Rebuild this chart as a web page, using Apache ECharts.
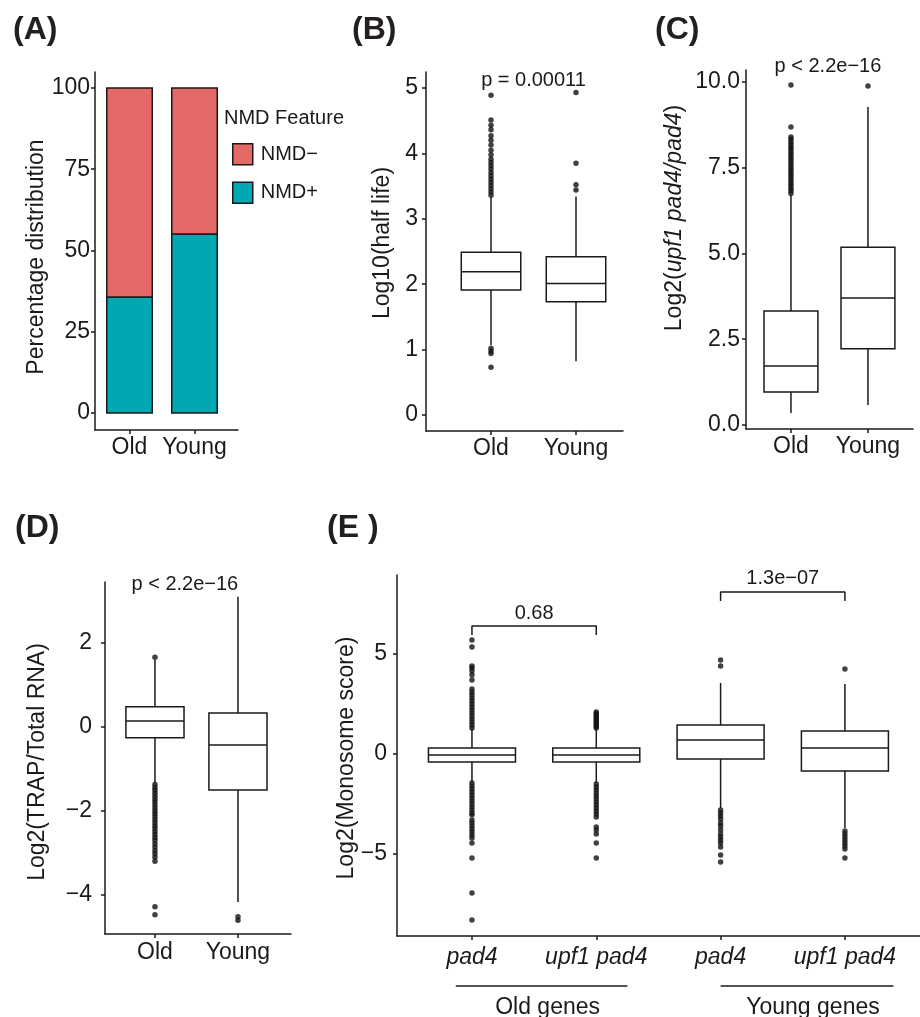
<!DOCTYPE html>
<html>
<head>
<meta charset="utf-8">
<script src="https://cdn.jsdelivr.net/npm/echarts@6/dist/echarts.min.js"></script>
<style>
  html, body { margin: 0; padding: 0; background: #fff; }
  #main { width: 920px; height: 1017px; }
</style>
</head>
<body>
<div id="main"></div>
<script>
// ---------- values ----------
// (A) share of transcripts with / without NMD feature, %
const ageGroups = ['Old', 'Young'];
const nmdPlus = [35.7, 55.1];
const nmdMinus = [64.3, 44.9];

// box stats: [lower whisker, Q1, median, Q3, upper whisker]
// (B) Log10(half life)
const halfLifeBox = [
  [1.07, 1.91, 2.19, 2.49, 3.33],
  [0.82, 1.73, 2.01, 2.42, 3.34]
];
const halfLifeOutliers = [
  [0.73, 0.94, 0.98, 1.02, 3.36, 3.41, 3.46, 3.51, 3.56, 3.61, 3.66, 3.71, 3.76, 3.81, 3.86, 3.91,
   3.98, 4.05, 4.13, 4.2, 4.27, 4.36, 4.43, 4.51, 4.89],
  [3.44, 3.52, 3.85, 4.93]
];

// (C) Log2(upf1 pad4 / pad4)
const upfRatioBox = [
  [0.35, 0.96, 1.72, 3.32, 6.7],
  [0.58, 2.22, 3.70, 5.18, 9.27]
];
const upfRatioOutliers = [
  [6.75, 6.83, 6.9, 6.98, 7.05, 7.13, 7.2, 7.28, 7.35, 7.43, 7.5, 7.58, 7.65, 7.73, 7.8, 7.88,
   7.95, 8.03, 8.1, 8.18, 8.25, 8.33, 8.4, 8.69, 9.91],
  [9.88]
];

// (D) Log2(TRAP / Total RNA)
const trapBox = [
  [-1.33, -0.26, 0.14, 0.48, 1.6],
  [-4.17, -1.5, -0.43, 0.33, 3.1]
];
const trapOutliers = [
  [1.66, -1.37, -1.44, -1.51, -1.58, -1.65, -1.72, -1.79, -1.86, -1.93, -2.0, -2.07, -2.14, -2.21,
   -2.28, -2.35, -2.42, -2.49, -2.56, -2.63, -2.7, -2.78, -2.86, -2.94, -3.02, -3.1, -3.2, -4.28, -4.47],
  [-4.52, -4.6]
];

// (E) Log2(Monosome score)
const genotypes = ['pad4', 'upf1 pad4', 'pad4', 'upf1 pad4'];
const geneGroups = ['Old genes', 'Young genes'];
const monosomeBox = [
  [-1.4, -0.4, -0.05, 0.3, 1.25],
  [-1.45, -0.4, -0.05, 0.3, 1.25],
  [-2.7, -0.25, 0.7, 1.45, 3.55],
  [-3.7, -0.85, 0.3, 1.15, 3.5]
];
const monosomeOutliers = [
  [1.3, 1.45, 1.6, 1.75, 1.9, 2.05, 2.2, 2.35, 2.5, 2.65, 2.8, 2.95, 3.1, 3.25, 3.7, 3.95, 4.15, 4.3, 4.4,
   5.35, 5.7, -1.45, -1.6, -1.75, -1.9, -2.05, -2.2, -2.35, -2.5, -2.65, -2.8, -2.95, -3.05, -3.3, -3.45,
   -3.6, -3.75, -3.9, -4.05, -4.2, -4.45, -5.2, -6.95, -8.3],
  [1.3, 1.38, 1.46, 1.54, 1.62, 1.7, 1.78, 1.86, 1.94, 2.02, 2.1, -1.5, -1.65, -1.8, -1.95, -2.1, -2.25,
   -2.4, -2.55, -2.7, -2.85, -3.0, -3.15, -3.65, -3.8, -4.0, -4.45, -5.2],
  [4.4, 4.7, -2.8, -2.95, -3.1, -3.25, -3.45, -3.6, -3.8, -4.0, -4.15, -4.3, -4.45, -4.65, -5.05, -5.4],
  [4.25, -3.85, -4.0, -4.15, -4.3, -4.45, -4.6, -4.75, -5.2]
];
// comparison brackets: [left group, right group, bar height, tick end]
const monosomeBrackets = [[1, 2, 6.4, 5.95], [3, 4, 8.1, 7.65]];
const monosomePvalues = ['0.68', '1.3e\u221207'];
// underline span of each gene group (x positions), drawn below the axis
const groupSpans = [[0.87, 2.25], [3.0, 4.39]];
const groupLineY = -11.6;

// ---------- styling ----------
const FONT = 'Arial, "Liberation Sans", Helvetica, sans-serif';
const INK = '#1a1a1a';
const RED = '#E46866';
const TEAL = '#00A9B1';

const grids = [
  { left: 95, top: 72, width: 143, height: 358 },   // A
  { left: 426, top: 72, width: 197, height: 359 },  // B
  { left: 746, top: 70, width: 167, height: 359 },  // C
  { left: 105, top: 582, width: 186, height: 352 }, // D
  { left: 397, top: 575, width: 523, height: 361 }  // E
];

function xAxisOf(gi, range, names, margin, italic) {
  const pos = names.map((_, i) => i + 1);
  return {
    type: 'value', gridIndex: gi, min: range[0], max: range[1],
    axisLine: { show: true, onZero: false, lineStyle: { color: INK, width: 1.5 } },
    axisTick: { show: true, length: 4, customValues: pos, lineStyle: { color: INK, width: 1.5 } },
    axisLabel: {
      customValues: pos, margin: margin, color: INK, fontSize: 23, fontFamily: FONT,
      fontStyle: italic ? 'italic' : 'normal',
      formatter: v => names[Math.round(v) - 1]
    },
    splitLine: { show: false }
  };
}

function yAxisOf(gi, range, ticks, margin, digits) {
  return {
    type: 'value', gridIndex: gi, min: range[0], max: range[1],
    axisLine: { show: true, onZero: false, lineStyle: { color: INK, width: 1.5 } },
    axisTick: { show: true, length: 4, customValues: ticks, lineStyle: { color: INK, width: 1.5 } },
    axisLabel: {
      customValues: ticks, margin: margin, color: INK, fontSize: 23, fontFamily: FONT,
      formatter: v => v.toFixed(digits).replace('-', '\u2212')
    },
    splitLine: { show: false }
  };
}

// stacked bar segment: [x, from, to], width 0.7 of one group step
function renderSegment(params, api) {
  const x = api.value(0);
  const a = api.coord([x, api.value(1)]);
  const b = api.coord([x, api.value(2)]);
  const half = api.size([0.7, 0])[0] / 2;
  return {
    type: 'rect',
    shape: { x: a[0] - half, y: b[1], width: half * 2, height: a[1] - b[1] },
    style: { fill: api.visual('color'), stroke: INK, lineWidth: 1.5 }
  };
}

// ggplot-like box: no whisker caps, box width 0.7 of one group step
function renderBox(params, api) {
  const x = api.value(0);
  const lo = api.coord([x, api.value(1)]);
  const q1 = api.coord([x, api.value(2)]);
  const md = api.coord([x, api.value(3)]);
  const q3 = api.coord([x, api.value(4)]);
  const hi = api.coord([x, api.value(5)]);
  const half = api.size([0.7, 0])[0] / 2;
  const st = { stroke: INK, lineWidth: 1.5, fill: null };
  return {
    type: 'group',
    children: [
      { type: 'line', shape: { x1: lo[0], y1: lo[1], x2: q1[0], y2: q1[1] }, style: st },
      { type: 'line', shape: { x1: q3[0], y1: q3[1], x2: hi[0], y2: hi[1] }, style: st },
      { type: 'rect', shape: { x: q3[0] - half, y: q3[1], width: half * 2, height: q1[1] - q3[1] },
        style: { stroke: INK, lineWidth: 1.5, fill: '#fff' } },
      { type: 'line', shape: { x1: md[0] - half, y1: md[1], x2: md[0] + half, y2: md[1] }, style: st }
    ]
  };
}

function boxSeries(gi, boxes) {
  return {
    type: 'custom', xAxisIndex: gi, yAxisIndex: gi, renderItem: renderBox, z: 3,
    data: boxes.map((b, i) => [i + 1].concat(b)),
    encode: { x: 0, y: [1, 2, 3, 4, 5] }
  };
}

function outlierSeries(gi, groups) {
  return {
    type: 'scatter', xAxisIndex: gi, yAxisIndex: gi, symbolSize: 5.5, z: 4,
    itemStyle: { color: '#111' },
    data: groups.flatMap((vals, i) => vals.map(v => [i + 1, v]))
  };
}

const series = [
  {
    type: 'custom', name: 'NMD+', xAxisIndex: 0, yAxisIndex: 0, renderItem: renderSegment,
    itemStyle: { color: TEAL },
    encode: { x: 0, y: [1, 2] },
    data: nmdPlus.map((v, i) => [i + 1, 0, v])
  },
  {
    type: 'custom', name: 'NMD\u2212', xAxisIndex: 0, yAxisIndex: 0, renderItem: renderSegment,
    itemStyle: { color: RED },
    encode: { x: 0, y: [1, 2] },
    data: nmdMinus.map((v, i) => [i + 1, nmdPlus[i], nmdPlus[i] + v])
  },
  outlierSeries(1, halfLifeOutliers), boxSeries(1, halfLifeBox),
  outlierSeries(2, upfRatioOutliers), boxSeries(2, upfRatioBox),
  outlierSeries(3, trapOutliers), boxSeries(3, trapBox),
  outlierSeries(4, monosomeOutliers), boxSeries(4, monosomeBox)
];

monosomeBrackets.forEach(b => {
  series.push({
    type: 'line', xAxisIndex: 4, yAxisIndex: 4, symbol: 'none', silent: true,
    lineStyle: { color: INK, width: 1.5 },
    data: [[b[0], b[3]], [b[0], b[2]], [b[1], b[2]], [b[1], b[3]]]
  });
});
groupSpans.forEach(s => {
  series.push({
    type: 'line', xAxisIndex: 4, yAxisIndex: 4, symbol: 'none', silent: true, clip: false,
    lineStyle: { color: INK, width: 1.5 },
    data: [[s[0], groupLineY], [s[1], groupLineY]]
  });
});

const chart = echarts.init(document.getElementById('main'));
chart.setOption({
  animation: false,
  backgroundColor: '#fff',
  grid: grids.map(g => Object.assign({ outerBoundsMode: 'none', containLabel: false }, g)),
  xAxis: [
    xAxisOf(0, [0.469, 2.669], ageGroups, 6, false),
    xAxisOf(1, [0.235, 2.553], ageGroups, 6, false),
    xAxisOf(2, [0.416, 2.585], ageGroups, 6, false),
    xAxisOf(3, [0.398, 2.639], ageGroups, 7, false),
    xAxisOf(4, [0.397, 4.604], genotypes, 10, true)
  ],
  yAxis: [
    yAxisOf(0, [-5.2, 104.9], [0, 25, 50, 75, 100], 5, 0),
    yAxisOf(1, [-0.245, 5.245], [0, 1, 2, 3, 4, 5], 8, 0),
    yAxisOf(2, [-0.117, 10.35], [0, 2.5, 5, 7.5, 10], 6, 1),
    yAxisOf(3, [-4.93, 3.45], [-4, -2, 0, 2], 13, 0),
    yAxisOf(4, [-9.1, 8.95], [-5, 0, 5], 10, 0)
  ],
  legend: {
    data: ['NMD\u2212', 'NMD+'],
    orient: 'vertical', left: 227, top: 138,
    itemWidth: 20, itemHeight: 21, itemGap: 16, icon: 'rect',
    itemStyle: { borderColor: INK, borderWidth: 1.5 },
    textStyle: { color: INK, fontSize: 20, fontFamily: FONT, padding: [0, 0, 0, 3] },
    selectedMode: false
  },
  series: series
});

// ---------- text annotations ----------
function px(gi, pt) { return chart.convertToPixel({ gridIndex: gi }, pt); }
function label(x, y, text, o) {
  o = o || {};
  return {
    type: 'text', x: x, y: y, rotation: o.rotation || 0, silent: true, z: 10,
    style: {
      text: text, fill: o.color || INK, align: o.align || 'center', verticalAlign: o.vAlign || 'middle',
      fontSize: o.size || 23, fontWeight: o.weight || 'normal', fontFamily: FONT, rich: o.rich
    }
  };
}

const pTexts = [
  [1, [1.5, 5.12], 'p = 0.00011'],
  [2, [1.48, 10.44], 'p < 2.2e\u221216'],
  [3, [1.36, 3.40], 'p < 2.2e\u221216'],
  [4, [1.5, 7.05], monosomePvalues[0]],
  [4, [3.5, 8.8], monosomePvalues[1]]
];

const gfx = [];
[['(A)', 13, 30], ['(B)', 352, 30], ['(C)', 655, 30], ['(D)', 15, 528], ['(E )', 327, 528]]
  .forEach(t => gfx.push(label(t[1], t[2], t[0], { align: 'left', size: 32, weight: 'bold', color: '#231f20' })));

const up = Math.PI / 2;
gfx.push(label(37, 257, 'Percentage distribution', { rotation: up }));
gfx.push(label(383, 243, 'Log10(half life)', { rotation: up }));
gfx.push(label(675, 218, 'Log2({i|upf1 pad4/pad4})', {
  rotation: up, rich: { i: { fontStyle: 'italic', fontSize: 23, fontFamily: FONT, fill: INK } }
}));
gfx.push(label(38, 762, 'Log2(TRAP/Total RNA)', { rotation: up }));
gfx.push(label(347, 758, 'Log2(Monosome score)', { rotation: up }));
gfx.push(label(224, 118, 'NMD Feature', { align: 'left', size: 20 }));

pTexts.forEach(p => {
  const c = px(p[0], p[1]);
  gfx.push(label(c[0], c[1], p[2], { size: 20 }));
});
geneGroups.forEach((g, i) => {
  const c = px(4, [(groupSpans[i][0] + groupSpans[i][1]) / 2, groupLineY]);
  gfx.push(label(c[0] + 6, c[1] + 10, g, { vAlign: 'top' }));
});

chart.setOption({ graphic: gfx });
</script>
</body>
</html>
